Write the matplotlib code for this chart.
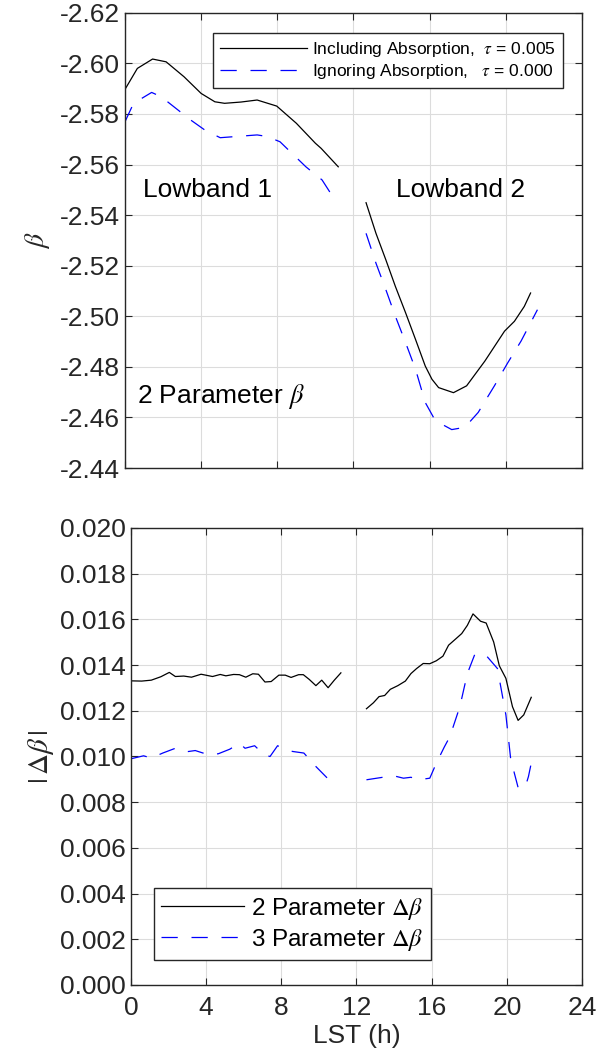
import matplotlib
matplotlib.use("Agg")
import matplotlib.pyplot as plt
from matplotlib.ticker import FormatStrFormatter

plt.rcParams['font.family'] = ['Liberation Sans', 'DejaVu Sans']
plt.rcParams['mathtext.fontset'] = 'stix'

# ---- top panel: 2 parameter beta vs LST ----
lst_inc_1 = [0.0, 0.65, 1.45, 2.16, 3.1, 4.0, 4.72, 5.23, 6.09, 6.94, 7.97, 9.0, 10.0, 10.3, 11.2]
beta_inc_1 = [-2.5897, -2.598, -2.6017, -2.6006, -2.5947, -2.5881, -2.5848, -2.5842,
              -2.5847, -2.5855, -2.5831, -2.5763, -2.5684, -2.5664, -2.5591]
lst_ign_1 = [0.0, 0.45, 1.4, 1.9, 3.45, 4.2, 5.0, 6.94, 7.45, 8.14, 9.5, 10.35, 11.1]
beta_ign_1 = [-2.5769, -2.5842, -2.5885, -2.5868, -2.5776, -2.5736, -2.5706, -2.5717,
              -2.5711, -2.569, -2.5591, -2.5539, -2.5451]

lst_inc_2 = [12.66, 13.18, 13.7, 14.2, 14.74, 15.26, 15.77, 16.12, 16.47, 17.25, 17.94,
             18.9, 19.93, 20.45, 20.97, 21.3]
beta_inc_2 = [-2.5449, -2.5328, -2.5223, -2.5118, -2.5013, -2.4908, -2.4803, -2.4751,
              -2.4718, -2.4698, -2.4725, -2.4823, -2.4941, -2.498, -2.5039, -2.5092]
lst_ign_2 = [12.66, 13.18, 13.7, 14.2, 14.74, 15.26, 15.77, 16.3, 17.16, 17.85, 18.55,
             19.4, 20.1, 20.8, 21.3, 21.66]
beta_ign_2 = [-2.5328, -2.521, -2.5105, -2.500, -2.4895, -2.479, -2.4659, -2.4587,
              -2.4552, -2.4561, -2.462, -2.4725, -2.4816, -2.4902, -2.4974, -2.5026]

# ---- bottom panel: |delta beta| ----
lst_d2_1 = [0.0, 0.57, 1.08, 1.59, 2.04, 2.36, 2.81, 3.22, 3.73, 4.34, 4.75, 5.05, 5.46,
            5.77, 6.11, 6.48, 6.78, 7.13, 7.46, 7.87, 8.21, 8.52, 8.92, 9.17, 9.49, 9.84,
            10.15, 10.49, 10.82, 11.17]
d2_1 = [0.01331, 0.0133, 0.01334, 0.01349, 0.01368, 0.0135, 0.01352, 0.01347, 0.0136,
        0.0135, 0.01359, 0.01353, 0.01359, 0.01358, 0.01347, 0.01362, 0.0136, 0.01326,
        0.01328, 0.01356, 0.01356, 0.01346, 0.01358, 0.01358, 0.01337, 0.0131, 0.01334,
        0.01301, 0.01334, 0.01366]
lst_d2_2 = [12.53, 12.9, 13.2, 13.5, 13.8, 14.2, 14.6, 14.9, 15.2, 15.55, 15.9, 16.25,
            16.6, 16.9, 17.3, 17.6, 17.9, 18.2, 18.6, 18.9, 19.3, 19.6, 19.95, 20.3,
            20.6, 20.9, 21.3]
d2_2 = [0.01209, 0.01235, 0.01262, 0.01267, 0.01294, 0.0131, 0.0133, 0.01363, 0.01385,
        0.01407, 0.01406, 0.01419, 0.01439, 0.01487, 0.01516, 0.01538, 0.01574, 0.01624,
        0.01592, 0.01584, 0.01501, 0.01397, 0.01342, 0.01218, 0.01158, 0.01182, 0.01259]

lst_d3_1 = [0.0, 0.67, 1.08, 1.69, 2.3, 2.81, 3.42, 4.14, 4.65, 5.26, 5.77, 6.07, 6.58,
            7.09, 7.4, 7.8, 8.3, 8.6, 9.2, 9.84, 10.5, 10.86]
d3_1 = [0.0099, 0.01003, 0.00993, 0.01015, 0.01034, 0.01019, 0.01026, 0.01007, 0.01012,
        0.01032, 0.01058, 0.01036, 0.01047, 0.01007, 0.010, 0.01047, 0.01029, 0.01022,
        0.01015, 0.00956, 0.00901, 0.00942]
lst_d3_2 = [12.53, 13.4, 14.0, 14.5, 14.9, 15.3, 15.9, 16.25, 16.67, 16.97, 17.5, 17.9,
            18.3, 18.9, 19.5, 19.95, 20.2, 20.4, 20.6, 20.97, 21.15, 21.3]
d3_2 = [0.00898, 0.00909, 0.00915, 0.00905, 0.00909, 0.00898, 0.00905, 0.00971, 0.01041,
        0.01087, 0.01218, 0.01363, 0.01448, 0.01442, 0.01385, 0.01182, 0.00993, 0.00927,
        0.00864, 0.00864, 0.00912, 0.00971]

xticks = [0, 4, 8, 12, 16, 20, 24]
dash = (0, (13, 11))
axcol = '#262626'

fig = plt.figure(figsize=(6.0, 10.63), dpi=100)
ax1 = fig.add_axes([0.2083, 0.5597, 0.7617, 0.4283])
ax2 = fig.add_axes([0.2183, 0.0734, 0.7517, 0.4299])

for ax in (ax1, ax2):
    ax.set_xlim(0, 24)
    ax.set_xticks(xticks)
    ax.grid(True, color='#dcdcdc', linewidth=0.8)
    ax.set_axisbelow(True)
    ax.tick_params(direction='in', top=True, right=True, labelsize=19,
                   colors=axcol, length=5)
    ax.tick_params(axis='x', pad=8)
    for s in ax.spines.values():
        s.set_color(axcol)
        s.set_linewidth(1.0)

# top
l1, = ax1.plot(lst_inc_1, beta_inc_1, color='black', lw=0.9)
ax1.plot(lst_inc_2, beta_inc_2, color='black', lw=0.9)
l2, = ax1.plot(lst_ign_1, beta_ign_1, color='blue', lw=0.9, linestyle=dash)
ax1.plot(lst_ign_2, beta_ign_2, color='blue', lw=0.9, linestyle=dash)
ax1.set_ylim(-2.44, -2.62)
ax1.set_yticks([-2.62, -2.60, -2.58, -2.56, -2.54, -2.52, -2.50, -2.48, -2.46, -2.44])
ax1.yaxis.set_major_formatter(FormatStrFormatter('%.2f'))
ax1.set_xticklabels([])
ax1.set_ylabel(r'$\beta$', fontsize=20, color=axcol, labelpad=6)
ax1.text(0.95, -2.5498, 'Lowband 1', fontsize=19, va='center', ha='left')
ax1.text(14.25, -2.5498, 'Lowband 2', fontsize=19, va='center', ha='left')
ax1.text(0.65, -2.4684, r'2 Parameter $\beta$', fontsize=19, va='center', ha='left')
leg1 = ax1.legend([l1, l2], [r'Including Absorption,  $\tau$ = 0.005',
                             r'Ignoring Absorption,   $\tau$ = 0.000'],
                  loc='upper right', bbox_to_anchor=(0.958, 0.956), fontsize=12.5,
                  handlelength=5.0, fancybox=False, edgecolor=axcol, framealpha=1,
                  borderpad=0.4, labelspacing=0.2, handletextpad=0.3, borderaxespad=0)
leg1.get_frame().set_linewidth(1.0)

# bottom
m1, = ax2.plot(lst_d2_1, d2_1, color='black', lw=0.9)
ax2.plot(lst_d2_2, d2_2, color='black', lw=0.9)
m2, = ax2.plot(lst_d3_1, d3_1, color='blue', lw=0.9, linestyle=dash)
ax2.plot(lst_d3_2, d3_2, color='blue', lw=0.9, linestyle=dash)
ax2.set_ylim(0, 0.020)
ax2.set_yticks([0.000, 0.002, 0.004, 0.006, 0.008, 0.010, 0.012, 0.014, 0.016, 0.018, 0.020])
ax2.yaxis.set_major_formatter(FormatStrFormatter('%.3f'))
ax2.set_xlabel('LST (h)', fontsize=19, color=axcol, labelpad=3)
ax2.set_ylabel(r'$|\,\Delta\beta\,|$', fontsize=21, color=axcol, labelpad=3)
leg2 = ax2.legend([m1, m2], [r'2 Parameter $\Delta\beta$', r'3 Parameter $\Delta\beta$'],
                  loc='lower left', bbox_to_anchor=(0.051, 0.055), fontsize=17.5,
                  handlelength=3.4, fancybox=False, edgecolor=axcol, framealpha=1,
                  borderpad=0.3, labelspacing=0.2, handletextpad=0.3, borderaxespad=0)
leg2.get_frame().set_linewidth(1.0)

fig.savefig('out.png', dpi=100)
